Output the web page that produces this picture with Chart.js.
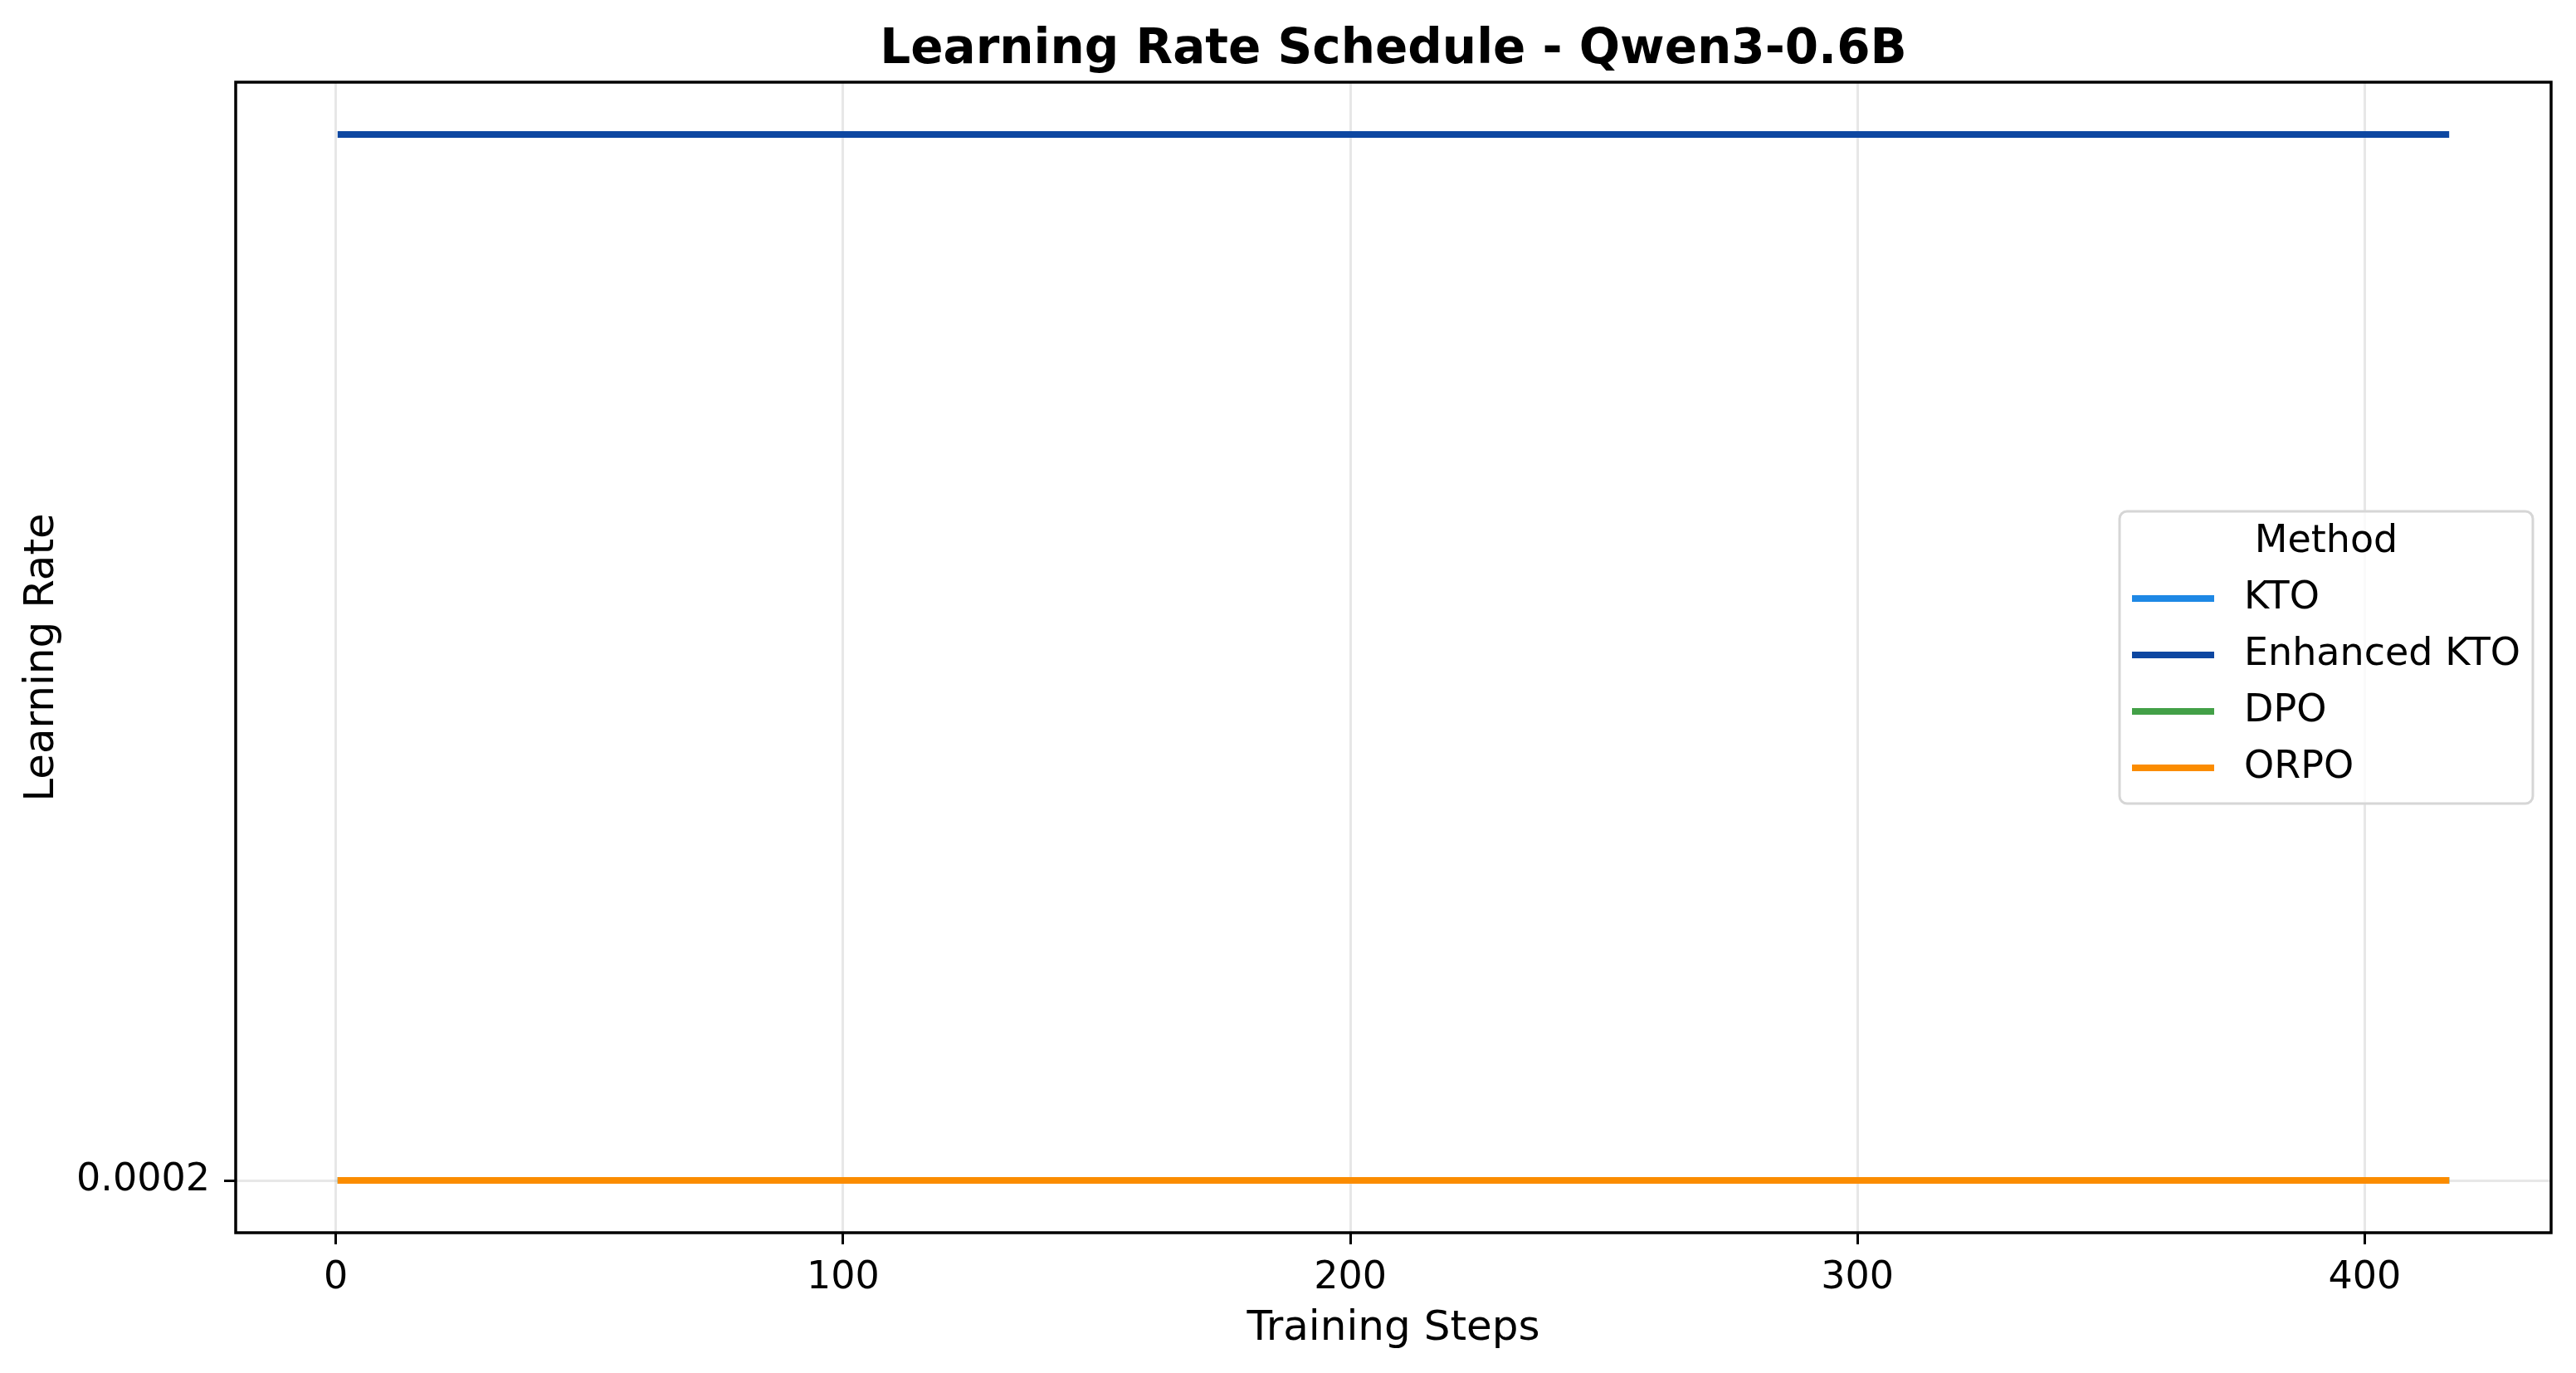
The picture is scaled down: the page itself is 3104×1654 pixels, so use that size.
<!DOCTYPE html>
<html>
<head>
<meta charset="utf-8">
<title>Learning Rate Schedule - Qwen3-0.6B</title>
<script src="https://cdn.jsdelivr.net/npm/chart.js@4.4.0/dist/chart.umd.min.js"></script>
<style>
  html, body { margin: 0; padding: 0; background: #fff; }
  canvas { display: block; }
</style>
</head>
<body>
<canvas id="cchart" width="3104" height="1654"></canvas>
<script>
// values
const steps = [1, 416];
const methods = ['KTO', 'Enhanced KTO', 'DPO', 'ORPO'];
const kto_lr = [0.0002, 0.0002];
const enhanced_kto_lr = [0.0005, 0.0005];
const dpo_lr = [0.0002, 0.0002];
const orpo_lr = [0.0002, 0.0002];
const xTicks = [0, 100, 200, 300, 400];
const yTicks = [0.0002];
const colores = ['#1E88E5', '#0D47A1', '#43A047', '#FB8C00'];
const titulo = 'Learning Rate Schedule - Qwen3-0.6B';

const series = [kto_lr, enhanced_kto_lr, dpo_lr, orpo_lr];
const FONT = '"DejaVu Sans", "Liberation Sans", sans-serif';

// matplotlib style 5% margins around the data
const allY = series.flat();
const yLo = Math.min(...allY), yHi = Math.max(...allY);
const xLo = Math.min(...steps), xHi = Math.max(...steps);
const xPad = (xHi - xLo) * 0.05, yPad = (yHi - yLo) * 0.05;

const datasets = methods.map(function (name, i) {
  return {
    label: name,
    data: steps.map(function (s, j) { return { x: s, y: series[i][j] }; }),
    borderColor: colores[i],
    backgroundColor: colores[i],
    borderWidth: 8,
    borderCapStyle: 'square',
    pointRadius: 0,
    tension: 0,
    order: methods.length - i   // last one ends on top, like matplotlib
  };
});

// title centred over the axes, frame, legend box at center right
const frameLegend = {
  id: 'frameLegend',
  afterDraw(chart) {
    const ctx = chart.ctx;
    const a = chart.chartArea;
    ctx.save();

    ctx.fillStyle = '#000';
    ctx.font = 'bold 58px ' + FONT;
    ctx.textAlign = 'center';
    ctx.textBaseline = 'alphabetic';
    ctx.fillText(titulo, (a.left + a.right) / 2, 76);

    ctx.strokeStyle = '#000';
    ctx.lineWidth = 3.5;
    ctx.strokeRect(a.left, a.top, a.right - a.left, a.bottom - a.top);

    const bw = 498, bh = 352;
    const bx = a.right - 22 - bw;
    const by = (a.top + a.bottom) / 2 - bh / 2;
    const r = 9;
    ctx.beginPath();
    ctx.moveTo(bx + r, by);
    ctx.arcTo(bx + bw, by, bx + bw, by + bh, r);
    ctx.arcTo(bx + bw, by + bh, bx, by + bh, r);
    ctx.arcTo(bx, by + bh, bx, by, r);
    ctx.arcTo(bx, by, bx + bw, by, r);
    ctx.closePath();
    ctx.fillStyle = 'rgba(255,255,255,0.8)';
    ctx.fill();
    ctx.strokeStyle = '#d6d6d6';
    ctx.lineWidth = 3;
    ctx.stroke();

    ctx.fillStyle = '#000';
    ctx.font = '46px ' + FONT;
    ctx.textBaseline = 'middle';
    ctx.textAlign = 'center';
    ctx.fillText('Method', bx + bw / 2, by + 37);

    ctx.textAlign = 'left';
    methods.forEach(function (name, i) {
      const yy = by + 105 + i * 68;
      ctx.strokeStyle = colores[i];
      ctx.lineWidth = 8;
      ctx.lineCap = 'butt';
      ctx.beginPath();
      ctx.moveTo(bx + 15, yy);
      ctx.lineTo(bx + 114, yy);
      ctx.stroke();
      ctx.fillText(name, bx + 150, yy);
    });
    ctx.restore();
  }
};

const config = {
  type: 'line',
  data: { datasets: datasets },
  options: {
    responsive: false,
    devicePixelRatio: 1,
    animation: false,
    layout: { padding: { left: 0, right: 30, top: 99, bottom: 0 } },
    plugins: {
      legend: { display: false },
      tooltip: { enabled: false },
      title: { display: false }
    },
    scales: {
      x: {
        type: 'linear',
        min: xLo - xPad,
        max: xHi + xPad,
        afterBuildTicks: function (scale) { scale.ticks = xTicks.map(function (v) { return { value: v }; }); },
        afterFit: function (scale) { scale.height = 169; },
        border: { display: false },
        grid: { color: 'rgba(176,176,176,0.3)', lineWidth: 3, drawTicks: true, tickLength: 14, tickColor: '#000', tickWidth: 3 },
        ticks: {
          color: '#000', padding: 13, maxRotation: 0, autoSkip: false,
          font: { family: FONT, size: 46 },
          callback: function (v) { return String(v); }
        },
        title: { display: true, text: 'Training Steps', color: '#000', font: { family: FONT, size: 50 }, padding: { top: 0, bottom: 23 } }
      },
      y: {
        type: 'linear',
        min: yLo - yPad,
        max: yHi + yPad,
        afterBuildTicks: function (scale) { scale.ticks = yTicks.map(function (v) { return { value: v }; }); },
        afterFit: function (scale) { scale.width = 284; },
        border: { display: false },
        grid: { color: 'rgba(176,176,176,0.3)', lineWidth: 3, drawTicks: true, tickLength: 14, tickColor: '#000', tickWidth: 3 },
        ticks: {
          color: '#000', padding: 17, autoSkip: false,
          font: { family: FONT, size: 46 },
          callback: function (v) { return v.toString(); }
        },
        title: { display: true, text: 'Learning Rate', color: '#000', font: { family: FONT, size: 50 }, padding: { top: 21, bottom: 0 } }
      }
    }
  },
  plugins: [frameLegend]
};

const chart = new Chart(document.getElementById('cchart').getContext('2d'), config);
</script>
</body>
</html>
